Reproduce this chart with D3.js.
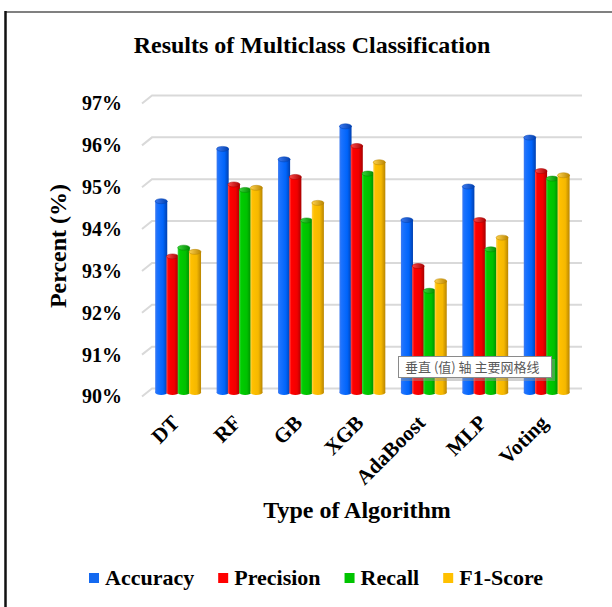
<!DOCTYPE html>
<html>
<head>
<meta charset="utf-8">
<script src="https://cdn.jsdelivr.net/npm/d3@7"></script>
<style>
  body { margin: 0; background: #fff; }
  svg { display: block; }
  text { font-family: "Liberation Serif", "Times New Roman", serif; font-weight: bold; fill: #000; }
</style>
</head>
<body>
<svg id="chart" width="612" height="607"></svg>
<script>
// Classification results per algorithm (percent)
const algorithms = ["DT", "RF", "GB", "XGB", "AdaBoost", "MLP", "Voting"];
const metrics    = ["Accuracy", "Precision", "Recall", "F1-Score"];
const accuracy   = [94.57, 95.82, 95.57, 96.36, 94.12, 94.92, 96.09];
const precision  = [93.25, 94.97, 95.15, 95.89, 93.02, 94.12, 95.29];
const recall     = [93.46, 94.84, 94.11, 95.23, 92.43, 93.42, 95.11];
const f1Score    = [93.36, 94.89, 94.53, 95.50, 92.66, 93.70, 95.19];
const yTicks     = [90, 91, 92, 93, 94, 95, 96, 97];

const series = [accuracy, precision, recall, f1Score];

// Cylinder shading per metric: [light edge, body, body, dark edge]
const shades = [
  ["#3d7af0", "#1a72ff", "#0064fa", "#0040b0"],
  ["#ff4a4a", "#ff0000", "#f00000", "#a80000"],
  ["#3ad63a", "#00cc00", "#00c000", "#008a00"],
  ["#ffd24d", "#ffc000", "#f5b800", "#b98500"]
];
const legendColors = ["#1469f0", "#ff0000", "#00c400", "#ffc000"];

const svg = d3.select("#chart");
const defs = svg.append("defs");

shades.forEach((s, i) => {
  const g = defs.append("linearGradient").attr("id", "cyl" + i)
    .attr("x1", 0).attr("x2", 1).attr("y1", 0).attr("y2", 0);
  g.append("stop").attr("offset", "0%").attr("stop-color", s[0]);
  g.append("stop").attr("offset", "18%").attr("stop-color", s[1]);
  g.append("stop").attr("offset", "65%").attr("stop-color", s[2]);
  g.append("stop").attr("offset", "100%").attr("stop-color", s[3]);
  const c = defs.append("linearGradient").attr("id", "cap" + i)
    .attr("x1", 0).attr("x2", 1).attr("y1", 0).attr("y2", 0);
  c.append("stop").attr("offset", "0%").attr("stop-color", s[0]);
  c.append("stop").attr("offset", "100%").attr("stop-color", s[3]);
});

// Frame lines
svg.append("line").attr("x1", 5).attr("x2", 612).attr("y1", 12).attr("y2", 12)
  .attr("stroke", "#808080").attr("stroke-width", 2);
svg.append("line").attr("x1", 5.5).attr("x2", 5.5).attr("y1", 11).attr("y2", 607)
  .attr("stroke", "#111").attr("stroke-width", 2.5);

// Scales: y is the mid-depth plane, back wall sits 4px above, front 4px below
const depth = 4, skew = 5;
const y = d3.scaleLinear().domain([90, 97]).range([392.5, 99.5]);
const x0 = d3.scaleBand().domain(algorithms).range([147, 577])
  .paddingInner(0.267).paddingOuter(0.1335);
const x1 = d3.scaleBand().domain(metrics).range([0, x0.bandwidth()]);

// Gridlines on the back wall with a short slant along the side wall
svg.append("g").selectAll("path").data(yTicks).join("path")
  .attr("d", t => `M${147 - skew},${y(t) + depth}L${147 + skew},${y(t) - depth}L${582},${y(t) - depth}`)
  .attr("fill", "none").attr("stroke", "#d9d9d9").attr("stroke-width", 2);

// Value axis labels at the front plane
const yFront = y.copy().range(y.range().map(v => v + depth));
const yAxis = svg.append("g").attr("transform", "translate(122,0)")
  .call(d3.axisLeft(yFront).tickValues(yTicks).tickFormat(d => d + "%").tickSize(0).tickPadding(0));
yAxis.select(".domain").remove();
yAxis.selectAll("text").style("font-size", "20px")
  .style("font-family", "'Liberation Serif', 'Times New Roman', serif").style("font-weight", "bold");

// Cylinders
const barData = [];
algorithms.forEach((a, i) => metrics.forEach((m, j) => barData.push({ a, m, j, v: series[j][i] })));

const bars = svg.append("g").selectAll("g").data(barData).join("g");
const bw = x1.bandwidth() + 0.8;
const ry = 2.5;
bars.append("ellipse")
  .attr("cx", d => x0(d.a) + x1(d.m) + bw / 2).attr("cy", y(90))
  .attr("rx", bw / 2).attr("ry", ry)
  .attr("fill", d => `url(#cyl${d.j})`);
bars.append("rect")
  .attr("x", d => x0(d.a) + x1(d.m)).attr("width", bw)
  .attr("y", d => y(d.v)).attr("height", d => y(90) - y(d.v))
  .attr("fill", d => `url(#cyl${d.j})`);
bars.append("ellipse")
  .attr("cx", d => x0(d.a) + x1(d.m) + bw / 2).attr("cy", d => y(d.v))
  .attr("rx", bw / 2).attr("ry", ry)
  .attr("fill", d => `url(#cap${d.j})`)
  .attr("stroke", d => shades[d.j][3]).attr("stroke-width", 0.5);

// Category labels
svg.append("g").selectAll("text").data(algorithms).join("text")
  .attr("transform", d => `translate(${x0(d) + x0.bandwidth() / 2 + 3},424) rotate(-45)`)
  .attr("text-anchor", "end")
  .style("font-size", "21px")
  .text(d => d);

// Titles
svg.append("text").attr("x", 312).attr("y", 53).attr("text-anchor", "middle")
  .style("font-size", "24px").text("Results of Multiclass Classification");
svg.append("text").attr("transform", "translate(66,246) rotate(-90)").attr("text-anchor", "middle")
  .style("font-size", "24px").text("Percent (%)");
svg.append("text").attr("x", 357).attr("y", 518).attr("text-anchor", "middle")
  .style("font-size", "24px").text("Type of Algorithm");

// Hover tip box over the gridlines
const tip = svg.append("g").attr("transform", "translate(398,356)");
tip.append("rect").attr("x", 3).attr("y", 3).attr("width", 154).attr("height", 22)
  .attr("fill", "#9a9a9a").attr("opacity", 0.45);
tip.append("rect").attr("x", 0.5).attr("y", 0.5).attr("width", 153).attr("height", 21)
  .attr("fill", "#fff").attr("stroke", "#8a8a8a").attr("stroke-width", 1);
tip.append("text").attr("x", 7).attr("y", 16)
  .style("font-family", "'Noto Sans CJK SC', sans-serif").style("font-weight", "normal")
  .style("font-size", "13px").style("fill", "#595959")
  .text("垂直 (值) 轴 主要网格线");

// Legend
const legend = svg.append("g");
let lx = 89;
metrics.forEach((m, j) => {
  legend.append("rect").attr("x", lx).attr("y", 573).attr("width", 10).attr("height", 10)
    .attr("fill", legendColors[j]);
  const t = legend.append("text").attr("x", lx + 16).attr("y", 584.5)
    .style("font-size", "22px").text(m);
  lx += 16 + t.node().getComputedTextLength() + 24;
});
</script>
</body>
</html>
